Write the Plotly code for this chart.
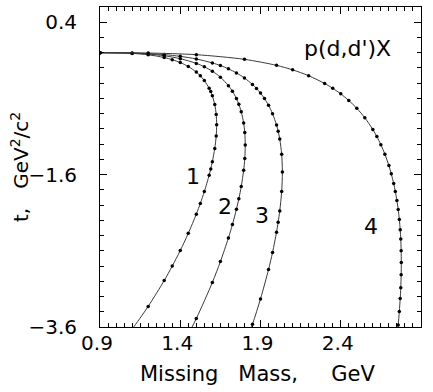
import plotly.graph_objects as go

# Curve 1
m1 = [0.9, 1.1, 1.2, 1.3, 1.35, 1.4, 1.45, 1.5, 1.525, 1.55, 1.58, 1.59, 1.6, 1.615, 1.624, 1.6268,
      1.624, 1.615, 1.6, 1.59, 1.58, 1.55, 1.525, 1.5, 1.45, 1.4, 1.35, 1.3, 1.2, 1.1, 1.05]
t1 = [0.0, -0.009, -0.027, -0.063, -0.091, -0.129, -0.181, -0.254, -0.303, -0.365, -0.466, -0.510, -0.566, -0.681, -0.811, -0.946,
      -1.092, -1.257, -1.430, -1.525, -1.608, -1.823, -1.978, -2.119, -2.371, -2.597, -2.801, -2.990, -3.330, -3.628, -3.763]
# Curve 2
m2 = [0.9, 1.1, 1.2, 1.3, 1.4, 1.5, 1.55, 1.6, 1.65, 1.7, 1.725, 1.75, 1.765, 1.78, 1.795, 1.802, 1.805,
      1.802, 1.795, 1.78, 1.765, 1.75, 1.725, 1.7, 1.65, 1.6, 1.5, 1.4]
t2 = [0.0, -0.006, -0.018, -0.040, -0.078, -0.140, -0.184, -0.243, -0.321, -0.432, -0.505, -0.601, -0.677, -0.774, -0.922, -1.047, -1.212,
      -1.390, -1.544, -1.757, -1.917, -2.056, -2.255, -2.432, -2.742, -3.015, -3.489, -3.897]
# Curve 3
m3 = [0.9, 1.1, 1.3, 1.4, 1.5, 1.6, 1.65, 1.7, 1.75, 1.8, 1.85, 1.875, 1.9, 1.925, 1.95, 1.975, 2.0, 2.01, 2.02, 2.032, 2.0363,
      2.032, 2.02, 2.01, 2.0, 1.975, 1.95, 1.9, 1.85, 1.8]
t3 = [0.0, -0.004, -0.025, -0.048, -0.082, -0.134, -0.168, -0.211, -0.265, -0.331, -0.417, -0.469, -0.530, -0.602, -0.690, -0.800, -0.950, -1.031, -1.134, -1.332, -1.566,
      -1.821, -2.076, -2.226, -2.355, -2.621, -2.846, -3.231, -3.565, -3.864]
# Curve 4
m4 = [0.9, 1.2, 1.5, 1.8, 2.0, 2.1, 2.2, 2.3, 2.35, 2.4, 2.45, 2.5, 2.55, 2.6, 2.625, 2.65, 2.675, 2.7, 2.715, 2.73, 2.74,
      2.75, 2.758, 2.765, 2.7705, 2.774, 2.7765, 2.7774,
      2.7765, 2.774, 2.7705, 2.765, 2.758, 2.75, 2.74]
t4 = [0.0, -0.004, -0.026, -0.087, -0.166, -0.225, -0.302, -0.404, -0.467, -0.540, -0.627, -0.729, -0.854, -1.008, -1.101, -1.207, -1.332, -1.482, -1.590, -1.718, -1.820,
      -1.940, -2.057, -2.188, -2.325, -2.445, -2.599, -2.755,
      -2.915, -3.086, -3.226, -3.398, -3.573, -3.739, -3.920]

curve_labels = ["1", "2", "3", "4"]
label_x = [1.481, 1.679, 1.907, 2.588]
label_y = [-1.629, -2.02, -2.13, -2.285]

FONT = "DejaVu Sans"

fig = go.Figure()
for M, T in [(m1, t1), (m2, t2), (m3, t3), (m4, t4)]:
    fig.add_trace(go.Scatter(
        x=M, y=T, mode="lines+markers",
        line=dict(color="#3a3a3a", width=1, shape="spline", smoothing=0.8),
        marker=dict(color="black", size=3.5),
        cliponaxis=True, hoverinfo="skip"))

annotations = []
for lab, lx, ly in zip(curve_labels, label_x, label_y):
    annotations.append(dict(x=lx, y=ly, xref="x", yref="y", text=lab, showarrow=False,
                            font=dict(family=FONT, size=22, color="black"),
                            xanchor="center", yanchor="middle"))
annotations.append(dict(x=2.439, y=0.059, xref="x", yref="y", text="p(d,d')X", showarrow=False,
                        font=dict(family=FONT, size=22, color="black"),
                        xanchor="center", yanchor="middle"))
annotations.append(dict(x=0.4907, y=-0.147, xref="paper", yref="paper",
                        text="Missing   Mass,     GeV", showarrow=False,
                        font=dict(family=FONT, size=21, color="black"),
                        xanchor="center", yanchor="middle"))
annotations.append(dict(x=-0.249, y=0.50, xref="paper", yref="paper",
                        text="t,   GeV<sup>2</sup>/c<sup>2</sup>", showarrow=False, textangle=-90,
                        font=dict(family=FONT, size=20, color="black"),
                        xanchor="center", yanchor="middle"))

axis_common = dict(
    ticks="inside", ticklen=7, tickwidth=1, tickcolor="black",
    showline=True, linecolor="black", linewidth=1, mirror="ticks",
    showgrid=False, zeroline=False,
    tickfont=dict(family=FONT, size=20, color="black"),
    tickformat=".1f", tickmode="linear",
)

fig.update_layout(
    width=433, height=392,
    margin=dict(l=100, r=12, t=7, b=65),
    paper_bgcolor="white", plot_bgcolor="white",
    showlegend=False,
    annotations=annotations,
    xaxis=dict(range=[0.8999, 2.9001], tick0=0.9, dtick=0.5,
               minor=dict(dtick=0.05, tick0=0.9, ticks="inside", ticklen=4, tickcolor="black", showgrid=False),
               ticklabelstandoff=-2, ticklabelshift=-3, **axis_common),
    yaxis=dict(range=[-3.6001, 0.6], tick0=0.4, dtick=2,
               minor=dict(dtick=0.2, tick0=0.4, ticks="inside", ticklen=4, tickcolor="black", showgrid=False),
               ticklabelstandoff=18, **axis_common),
)

fig.write_html("out.html")
